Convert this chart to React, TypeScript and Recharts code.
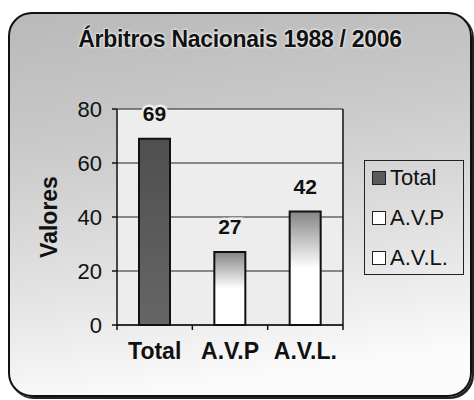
import React from 'react';
import { BarChart, Bar, XAxis, YAxis, CartesianGrid, Legend, Cell, LabelList } from 'recharts';

const categories = ['Total', 'A.V.P', 'A.V.L.'];
const valores = [69, 27, 42];
const yTicks = [0, 20, 40, 60, 80];

const fills = ['url(#gradTotal)', 'url(#gradClaro)', 'url(#gradClaro)'];
const legendFills = ['#5a5a5a', '#ffffff', '#ffffff'];

const chartData = categories.map((name, i) => ({ name, valor: valores[i] }));

const font = '"Liberation Sans", Arial, sans-serif';
const X_TICK_MARGIN = 18;

// category labels + tick marks on the band edges (like Excel)
const CategoryTick = (props: any) => {
    const { x, y, payload, index } = props;
    const half = payload?.offset ?? 0;
    const axisY = y - X_TICK_MARGIN;
    return (
        <g>
            <line x1={x - half} x2={x - half} y1={axisY} y2={axisY + 5} stroke="#111" strokeWidth={1.5} />
            {index === categories.length - 1 && (
                <line x1={x + half} x2={x + half} y1={axisY} y2={axisY + 5} stroke="#111" strokeWidth={1.5} />
            )}
            <text
                x={x}
                y={y}
                dy="0.71em"
                textAnchor="middle"
                fill="#111"
                fontSize={23}
                fontWeight="bold"
                fontFamily={font}
            >
                {payload.value}
            </text>
        </g>
    );
};

const LegendBox = () => (
    <div
        style={{
            border: '1.5px solid #222',
            width: 100,
            height: 115,
            boxSizing: 'border-box',
            padding: '0 0 0 7px',
            fontFamily: font,
            fontSize: 22,
            color: '#111',
        }}
    >
        <div style={{ marginTop: -3 }}>
            {categories.map((c, i) => (
                <div key={c} style={{ display: 'flex', alignItems: 'center', height: 40 }}>
                    <span
                        style={{
                            display: 'inline-block',
                            width: 12,
                            height: 12,
                            border: '1.5px solid #222',
                            background: legendFills[i],
                            marginRight: 4,
                        }}
                    />
                    <span>{c}</span>
                </div>
            ))}
        </div>
    </div>
);

const App: React.FC = () => {
    return (
        <div style={{ position: 'absolute', left: 0, top: 0, width: 474, height: 400, background: '#fff' }}>
            <div
                style={{
                    position: 'absolute',
                    left: 8,
                    top: 12,
                    width: 460,
                    height: 381,
                    border: '2px solid #111',
                    borderRadius: 24,
                    background: 'linear-gradient(172deg, #b9b9b9 0%, #c9c9c9 30%, #e4e4e4 65%, #fbfbfb 90%)',
                    boxShadow: '2px 2px 0 #222',
                }}
            />
            <div
                style={{
                    position: 'absolute',
                    left: 0,
                    top: 26,
                    width: 480,
                    textAlign: 'center',
                    fontFamily: font,
                    fontWeight: 'bold',
                    fontSize: 23,
                    letterSpacing: -0.3,
                    color: '#111',
                    textShadow: '0 0 2px #fff, 0 0 3px #fff',
                }}
            >
                Árbitros Nacionais 1988 / 2006
            </div>
            <div style={{ position: 'absolute', left: 0, top: 0 }}>
                <BarChart
                    width={474}
                    height={400}
                    data={chartData}
                    margin={{ top: 109, right: 130, left: 57, bottom: 34 }}
                >
                    <defs>
                        <linearGradient id="gradTotal" x1="0" y1="0" x2="0" y2="1">
                            <stop offset="0%" stopColor="#4f4f4f" />
                            <stop offset="100%" stopColor="#666666" />
                        </linearGradient>
                        <linearGradient id="gradClaro" x1="0" y1="0" x2="0" y2="1">
                            <stop offset="0%" stopColor="#858585" />
                            <stop offset="50%" stopColor="#ffffff" />
                            <stop offset="100%" stopColor="#ffffff" />
                        </linearGradient>
                    </defs>
                    <CartesianGrid vertical={false} stroke="#222" strokeWidth={1.2} fill="#ededed" />
                    <XAxis
                        dataKey="name"
                        height={41}
                        axisLine={{ stroke: '#111', strokeWidth: 1.5 }}
                        tickLine={false}
                        tickSize={0}
                        tickMargin={X_TICK_MARGIN}
                        interval={0}
                        tick={<CategoryTick />}
                    />
                    <YAxis
                        domain={[0, 80]}
                        ticks={yTicks}
                        width={60}
                        tickSize={5}
                        tickMargin={10}
                        axisLine={{ stroke: '#111', strokeWidth: 1.5 }}
                        tickLine={{ stroke: '#111', strokeWidth: 1.5 }}
                        tick={{ fill: '#111', fontSize: 22, fontFamily: font }}
                        label={{
                            value: 'Valores',
                            angle: -90,
                            position: 'insideLeft',
                            offset: -8,
                            style: { fill: '#111', fontSize: 23, fontWeight: 'bold', fontFamily: font, textAnchor: 'middle' },
                        }}
                    />
                    <YAxis
                        yAxisId="r"
                        orientation="right"
                        width={1}
                        domain={[0, 80]}
                        tick={false}
                        tickLine={false}
                        axisLine={{ stroke: '#111', strokeWidth: 1.5 }}
                    />
                    <Legend
                        layout="horizontal"
                        verticalAlign="middle"
                        align="center"
                        content={() => <LegendBox />}
                        wrapperStyle={{ left: 364, top: 160, width: 100, height: 115 }}
                    />
                    <Bar dataKey="valor" barSize={31} stroke="#111" strokeWidth={2} isAnimationActive={false}>
                        {chartData.map((d, i) => (
                            <Cell key={d.name} fill={fills[i]} />
                        ))}
                        <LabelList
                            dataKey="valor"
                            position="top"
                            offset={18}
                            style={{
                                fill: '#111',
                                fontSize: 21,
                                fontWeight: 'bold',
                                fontFamily: font,
                                stroke: '#ededed',
                                strokeWidth: 5,
                                paintOrder: 'stroke',
                            }}
                        />
                    </Bar>
                </BarChart>
            </div>
        </div>
    );
};

export default App;
